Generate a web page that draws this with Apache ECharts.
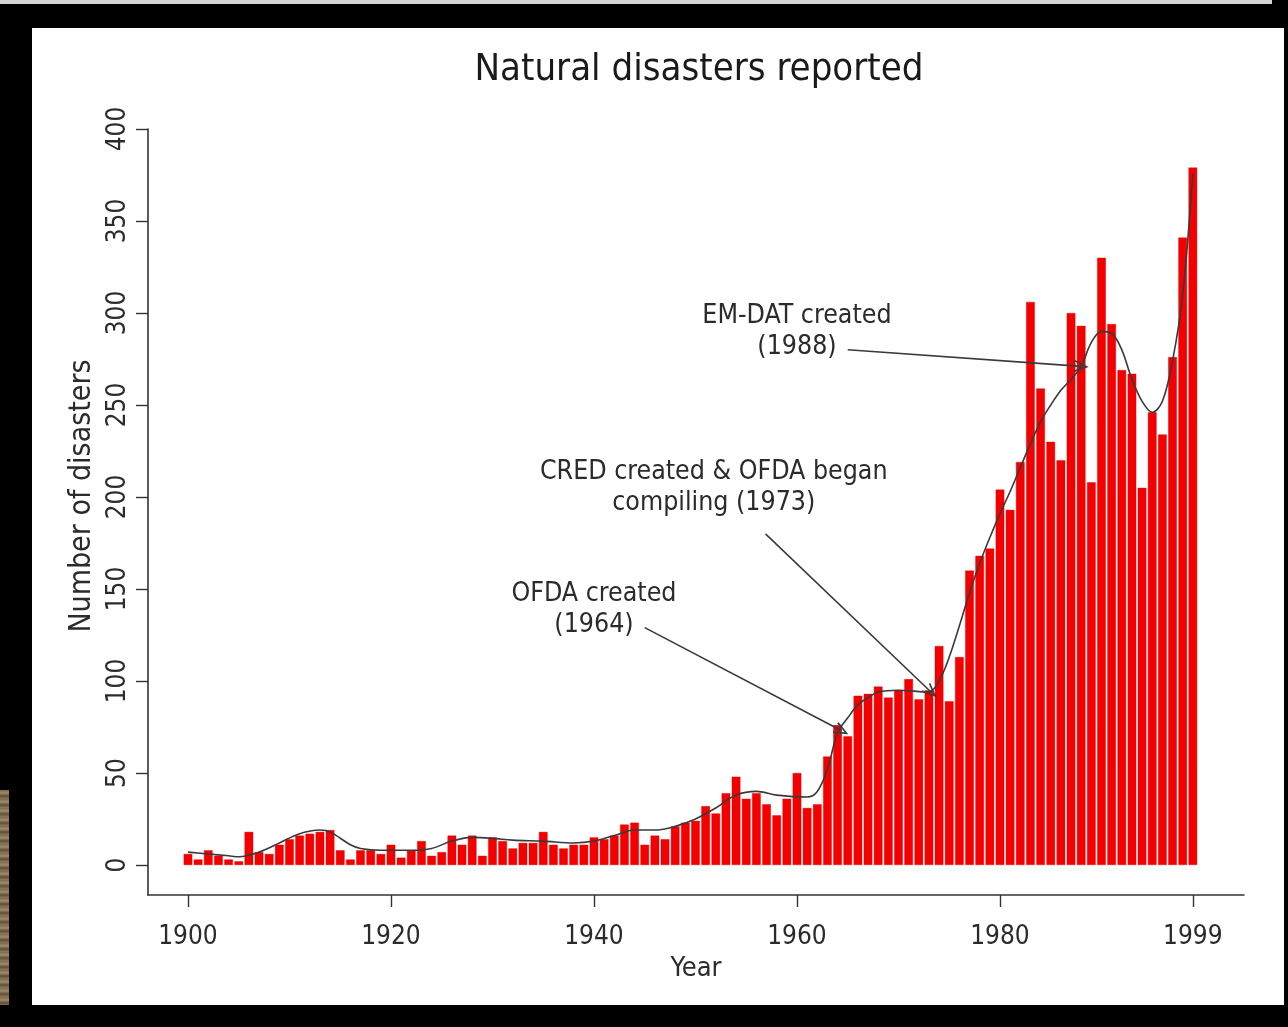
<!DOCTYPE html>
<html>
<head>
<meta charset="utf-8">
<script src="https://cdn.jsdelivr.net/npm/echarts@6/dist/echarts.min.js"></script>
<style>
  html, body { margin: 0; padding: 0; background: #000; }
  #topstrip { position: absolute; left: 0; top: 0; width: 1272px; height: 4px; background: #d4d4d4; }
  #texture { position: absolute; left: 0; top: 790px; width: 9px; height: 215px;
    background: repeating-linear-gradient(180deg, #7d6a4e 0px, #a08a68 3px, #5e4d36 6px, #8f7a5a 9px); }
  #panel { position: absolute; left: 32px; top: 28px; width: 1252px; height: 977px; background: #fff; }
  #chart { position: absolute; left: 0; top: 0; width: 1288px; height: 1027px; }
</style>
</head>
<body>
<div id="topstrip"></div>
<div id="texture"></div>
<div id="panel"></div>
<div id="chart"></div>
<script>
// ---- data ----
const years = [
  1900,1901,1902,1903,1904,1905,1906,1907,1908,1909,
  1910,1911,1912,1913,1914,1915,1916,1917,1918,1919,
  1920,1921,1922,1923,1924,1925,1926,1927,1928,1929,
  1930,1931,1932,1933,1934,1935,1936,1937,1938,1939,
  1940,1941,1942,1943,1944,1945,1946,1947,1948,1949,
  1950,1951,1952,1953,1954,1955,1956,1957,1958,1959,
  1960,1961,1962,1963,1964,1965,1966,1967,1968,1969,
  1970,1971,1972,1973,1974,1975,1976,1977,1978,1979,
  1980,1981,1982,1983,1984,1985,1986,1987,1988,1989,
  1990,1991,1992,1993,1994,1995,1996,1997,1998,1999
];
const disasters = [
  6, 3, 8, 5, 3, 2, 18, 7, 6, 11,
  14, 16, 17, 18, 19, 8, 3, 8, 8, 6,
  11, 4, 8, 13, 5, 7, 16, 11, 16, 5,
  15, 13, 9, 12, 12, 18, 11, 9, 11, 11,
  15, 14, 16, 22, 23, 11, 16, 14, 21, 23,
  24, 32, 28, 39, 48, 36, 39, 33, 27, 36,
  50, 31, 33, 59, 76, 70, 92, 93, 97, 91,
  95, 101, 90, 95, 119, 89, 113, 160, 168, 172,
  204, 193, 219, 306, 259, 230, 220, 300, 293, 208,
  330, 294, 269, 267, 205, 246, 234, 276, 341, 379
];
// smoothed trend line at these years
const trendYears = [
  1900,1902,1904,1905,1907,1909,1911,1913,1914,1916,1917,1919,1922,1924,1926,1928,1930,1932,1935,1938,
  1940,1942,1944,1946,1948,1950,1952,1954,1956,1958,1961,1962,1963,1964,1965,1966,1967,1968,1970,1973,
  1974,1975,1976,1977,1978,1979,1980,1981,1982,1983,1984,1985,1986,1987,1988,1989,1990,1991,1992,1993,
  1994,1995,1996,1997,1998,1999
];
const trendValues = [
  7, 6, 5, 4.5, 7, 12, 17, 19, 18, 11, 9, 8, 8, 9, 13, 15, 14.5, 13.5, 13, 12,
  13, 16, 19, 19, 21, 25, 31, 38, 40, 38, 37, 40, 52, 72, 80, 87, 91, 94, 95, 94,
  100, 113, 130, 148, 164, 178, 191, 203, 216, 229, 241, 250, 258, 264, 271, 284, 290, 289, 280, 264,
  252, 246, 252, 274, 310, 376
];
const xTickYears = [1900, 1920, 1940, 1960, 1980, 1999];
const yTickValues = [0, 50, 100, 150, 200, 250, 300, 350, 400];

// annotations (data coordinates: [year, count])
const noteTexts = ['EM-DAT created\n(1988)', 'CRED created & OFDA began\ncompiling (1973)', 'OFDA created\n(1964)'];
const noteAnchors = [[1960.0, 290], [1951.8, 205], [1940.0, 139]];
const arrowFrom = [[1965.0, 280], [1956.9, 180], [1945.0, 129]];
const arrowTo = [[1988.0, 271], [1973.2, 94], [1964.4, 73]];

// ---- chart ----
const FONT = "'Liberation Sans Narrow', 'Arial Narrow', 'DejaVu Sans Condensed', sans-serif";
const TXT = '#2b2b2b';
const chart = echarts.init(document.getElementById('chart'), null, { renderer: 'canvas' });

const barData = years.map((y, i) => [y, disasters[i]]);
const lineData = trendYears.map((y, i) => [y, trendValues[i]]);
const chevron = 'path://M6,0 L12,11 L10.6,11.8 L6,3.2 L1.4,11.8 L0,11 Z';

chart.setOption({
  backgroundColor: 'transparent',
  animation: false,
  title: {
    text: 'Natural disasters reported',
    left: 694,
    textAlign: 'center',
    top: 46,
    textStyle: { fontFamily: FONT, fontSize: 38, fontWeight: 'normal', color: '#1a1a1a' }
  },
  grid: { left: 148, right: 44, top: 129, bottom: 132 },
  xAxis: {
    type: 'value',
    min: 1896.06,
    max: 2004.04,
    name: 'Year',
    nameLocation: 'middle',
    nameGap: 60,
    nameTextStyle: { fontFamily: FONT, fontSize: 27, color: TXT },
    axisLine: { onZero: false, lineStyle: { color: '#333', width: 1.6 } },
    axisTick: { customValues: xTickYears, length: 12, lineStyle: { color: '#333', width: 1.4 } },
    axisLabel: {
      customValues: xTickYears, margin: 29, fontFamily: FONT, fontSize: 26, color: TXT,
      formatter: v => String(Math.round(v))
    },
    splitLine: { show: false }
  },
  yAxis: {
    type: 'value',
    min: -16.3,
    max: 400,
    name: 'Number of disasters',
    nameLocation: 'middle',
    nameRotate: 90,
    nameGap: 31,
    nameTextStyle: { fontFamily: FONT, fontSize: 30, color: TXT, padding: [0, 0, 0, 32] },
    axisLine: { show: true, lineStyle: { color: '#333', width: 1.6 } },
    axisTick: { show: true, customValues: yTickValues, length: 12, lineStyle: { color: '#333', width: 1.4 } },
    axisLabel: {
      customValues: yTickValues, rotate: 90, margin: 17, fontFamily: FONT, fontSize: 26, color: TXT,
      formatter: v => String(Math.round(v))
    },
    splitLine: { show: false }
  },
  series: [
    {
      type: 'bar',
      data: barData,
      barWidth: 8.6,
      itemStyle: { color: '#f40000', borderColor: '#d80000', borderWidth: 0.4 },
      z: 2
    },
    {
      type: 'line',
      data: lineData,
      smooth: 0.35,
      showSymbol: false,
      lineStyle: { color: '#3a3a3a', width: 1.6 },
      z: 3,
      markPoint: {
        symbol: 'circle',
        symbolSize: 0,
        silent: true,
        label: {
          show: true,
          position: 'inside',
          fontFamily: FONT,
          fontSize: 26.5,
          lineHeight: 31,
          color: TXT,
          align: 'center'
        },
        data: noteTexts.map((t, i) => ({
          coord: noteAnchors[i],
          label: { formatter: t }
        }))
      },
      markLine: {
        silent: true,
        symbol: ['none', chevron],
        symbolSize: [12, 15],
        label: { show: false },
        lineStyle: { color: '#3a3a3a', width: 1.6, type: 'solid' },
        data: arrowFrom.map((f, i) => [{ coord: f }, { coord: arrowTo[i] }])
      }
    }
  ]
});
</script>
</body>
</html>
